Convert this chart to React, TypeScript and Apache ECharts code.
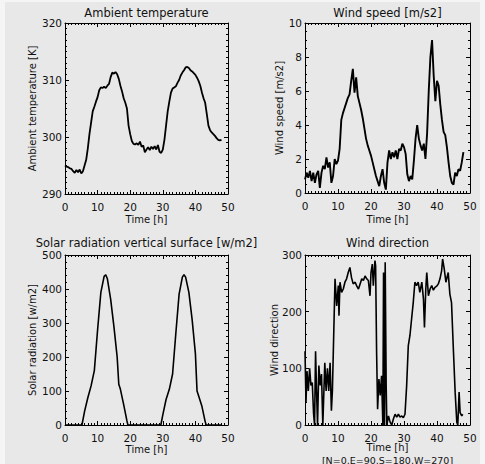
import React, { useEffect, useRef } from "react";
import * as echarts from "echarts";

// sample times (hours) of the half-hourly series
const halfHours = Array.from({ length: 97 }, (_, i) => i / 2);

const temperature = [
  295.0, 294.8, 294.7, 294.5, 294.4, 294.0, 293.7, 294.2, 293.8, 294.3,
  293.6, 294.0, 295.0, 296.0, 298.0, 300.5, 302.5, 304.5, 305.3, 306.2,
  307.0, 308.2, 308.7, 308.6, 308.8, 308.6, 309.0, 309.3, 310.5, 311.3,
  311.1, 311.4, 311.0, 310.2, 309.0, 308.0, 306.8, 306.0, 305.0, 302.0,
  300.5, 299.3, 298.8, 298.7, 298.9, 298.6, 299.2, 298.3, 298.5, 297.3,
  297.8, 298.2, 297.7, 298.3, 297.9, 298.4, 297.8, 298.6, 297.4, 297.2,
  297.8, 299.5, 302.0, 304.5, 306.2, 307.8, 308.5, 308.7, 308.9, 309.5,
  310.0, 310.8, 311.3, 311.7, 312.2, 312.3, 312.1, 311.7, 311.5, 311.2,
  310.9, 310.4, 309.8, 309.0, 307.8, 306.8, 306.0, 304.0, 302.0, 301.2,
  300.8, 300.5, 300.2, 299.8, 299.5, 299.4,
  299.5,
];

const windSpeed = [
  0.8, 1.2, 0.9, 1.3, 0.7, 1.2, 0.6, 1.1, 1.3, 0.3,
  1.2, 1.6, 1.4, 2.1, 1.5, 1.8, 0.6, 1.0, 2.0, 1.7,
  1.9, 2.6, 4.3, 4.7, 5.0, 5.3, 5.6, 5.8, 6.6, 7.3,
  5.9, 6.8, 5.7, 5.3, 4.9, 4.4, 3.8, 3.2, 2.8, 2.5,
  2.2, 1.8, 1.4, 1.0, 0.7, 0.4, 1.0, 1.4, 0.6, 0.2,
  1.8, 2.5, 2.0, 2.4, 2.1, 2.5, 2.0, 2.6, 2.5, 2.9,
  2.7, 2.3, 1.1, 0.7, 1.0, 0.8, 1.9, 3.2, 4.0, 3.2,
  2.8, 2.5, 2.9, 2.0, 3.5, 6.0, 8.0, 9.0, 6.9, 5.4,
  6.6, 6.3, 5.2, 4.3, 3.6, 3.4, 2.7, 1.8, 1.0, 0.6,
  0.5, 1.2, 1.0, 1.4, 1.3, 1.8,
  2.4,
];

const solarTime = [
  0, 5.2, 6, 7, 8, 9, 10, 11, 12, 12.5, 13, 14, 15, 16, 16.5, 17, 18, 19, 19.3,
  29.4, 30, 31, 32, 33, 34, 35, 36, 36.5, 37, 38, 39, 40, 40.5, 41, 42, 43, 43.3, 48,
];
const solarValue = [
  0, 0, 40, 80, 115, 160, 280, 390, 437, 442, 430, 370, 290, 200, 120, 105, 60, 12, 0,
  0, 30, 75, 105, 150, 270, 385, 435, 442, 435, 390, 310, 210, 100, 85, 55, 10, 0, 0,
];

const dirTime = [
  0, 0.3, 0.6, 1, 1.4, 1.8, 2.2, 2.6, 2.9, 3.2,
  3.5, 3.8, 4.2, 4.6, 5, 5.4, 5.6, 6, 6.4, 6.8,
  7.2, 7.6, 8, 8.3, 9.1, 9.6, 10.1, 10.3, 10.6, 11.1,
  11.6, 12.1, 12.6, 13.1, 13.6, 14.1, 14.6, 15.2, 15.7, 16.2,
  16.7, 17.2, 17.7, 18.2, 18.7, 19.2, 19.7, 20, 20.4, 20.7,
  21.2, 21.4, 21.7, 22, 22.4, 22.8, 23.2, 23.6, 23.8, 24.1,
  24.3, 24.6, 24.8, 25.3, 25.8, 26.3, 26.8, 27.3, 27.8, 28.3,
  28.8, 29.3, 29.8, 30.3, 30.8, 31.3, 31.8, 32.3, 32.8, 33.3,
  33.8, 34.3, 34.8, 35.4, 35.9, 36.2, 36.6, 36.9, 37.4, 37.9,
  38.4, 38.9, 39.4, 39.9, 40.4, 40.9, 41.4, 41.7, 42.2, 42.7,
  43.1, 43.4, 43.9, 44.4, 45, 45.5, 46, 46.3, 46.7, 47,
  47.5, 47.8,
];
const windDirection = [
  130, 40, 95, 60, 100, 70, 75, 20, 0, 130,
  60, 0, 105, 70, 90, 0, 0, 110, 60, 100,
  60, 110, 25, 60, 258, 210, 246, 193, 252, 234,
  240, 252, 258, 269, 278, 260, 249, 252, 245, 240,
  249, 258, 255, 263, 258, 255, 228, 269, 284, 246,
  290, 281, 128, 28, 81, 52, 87, 0, 269, 0,
  287, 69, 0, 16, 5, 0, 11, 19, 14, 19,
  14, 16, 13, 19, 69, 140, 158, 187, 216, 252,
  246, 252, 234, 252, 222, 172, 240, 269, 228, 240,
  246, 238, 243, 245, 249, 258, 272, 293, 275, 252,
  262, 269, 231, 216, 128, 58, 5, 0, 58, 22,
  16, 19,
];

const timeTicks = { min: 0, max: 50, interval: 10 };
const panelTitles = [
  "Ambient temperature",
  "Wind speed [m/s2]",
  "Solar radiation vertical surface [w/m2]",
  "Wind direction",
];
const yNames = [
  "Ambient temperature [K]",
  "Wind speed [m/s2]",
  "Solar radiation [w/m2]",
  "Wind direction",
];
const xName = "Time [h]";
const directionNote = "[N=0,E=90,S=180,W=270]";

const FONT = "DejaVu Sans";
const INK = "#111";

const grids = [
  { left: 65, top: 23, width: 163, height: 171 },
  { left: 305, top: 23, width: 165, height: 170 },
  { left: 65, top: 255, width: 163, height: 170 },
  { left: 305, top: 255, width: 165, height: 170 },
];

const yScales = [
  { min: 290, max: 320, interval: 10, minor: 10 },
  { min: 0, max: 10, interval: 2, minor: 4 },
  { min: 0, max: 500, interval: 100, minor: 5 },
  { min: 0, max: 300, interval: 100, minor: 5 },
];

function axisBase(primary: boolean, minor: number, margin: number) {
  return {
    axisLine: { show: true, onZero: false, lineStyle: { color: "#000", width: 1 } },
    axisTick: { show: true, inside: true, length: 4, lineStyle: { color: "#000", width: 1 } },
    minorTick: { show: true, splitNumber: minor, length: 2, lineStyle: { color: "#000", width: 1 } },
    splitLine: { show: false },
    minorSplitLine: { show: false },
    axisLabel: primary
      ? { show: true, color: INK, fontSize: 10.5, fontFamily: FONT, margin }
      : { show: false },
  };
}

function buildOption() {
  const xAxis: any[] = [];
  const yAxis: any[] = [];
  grids.forEach((_, g) => {
    ["bottom", "top"].forEach((pos, k) => {
      xAxis.push({
        type: "value",
        gridIndex: g,
        position: pos,
        ...timeTicks,
        ...axisBase(k === 0, 10, 7),
      });
    });
    const ys = yScales[g];
    ["left", "right"].forEach((pos, k) => {
      yAxis.push({
        type: "value",
        gridIndex: g,
        position: pos,
        min: ys.min,
        max: ys.max,
        interval: ys.interval,
        ...axisBase(k === 0, ys.minor, 3),
      });
    });
  });

  const lineSeries = (g: number, data: number[][], width: number) => ({
    type: "line",
    xAxisIndex: g * 2,
    yAxisIndex: g * 2,
    data,
    showSymbol: false,
    symbol: "none",
    lineStyle: { color: "#000", width },
    z: 3,
  });

  const series = [
    lineSeries(0, halfHours.map((t, i) => [t, temperature[i]]), 1.8),
    lineSeries(1, halfHours.map((t, i) => [t, windSpeed[i]]), 1.9),
    lineSeries(2, solarTime.map((t, i) => [t, solarValue[i]]), 1.6),
    lineSeries(3, dirTime.map((t, i) => [t, windDirection[i]]), 1.6),
  ];

  const titleY = [12.5, 12.5, 242.5, 242.5];
  const xNameY = [219, 219, 449, 447.5];
  const yNameX = [32, 279, 32, 274];

  const graphic: any[] = [
    {
      type: "rect",
      shape: { x: 5, y: 2, width: 475, height: 462 },
      style: { fill: "#e8e8e8" },
      z: -10,
      silent: true,
    },
  ];
  grids.forEach((gr, g) => {
    const cx = gr.left + gr.width / 2;
    const cy = gr.top + gr.height / 2;
    graphic.push({
      type: "text",
      x: cx,
      y: titleY[g],
      style: {
        text: panelTitles[g],
        fill: INK,
        font: `11.5px "${FONT}"`,
        textAlign: "center",
        textVerticalAlign: "middle",
      },
    });
    graphic.push({
      type: "text",
      x: cx,
      y: xNameY[g],
      style: {
        text: xName,
        fill: INK,
        font: `10px "${FONT}"`,
        textAlign: "center",
        textVerticalAlign: "middle",
      },
    });
    graphic.push({
      type: "text",
      x: yNameX[g],
      y: cy,
      rotation: Math.PI / 2,
      style: {
        text: yNames[g],
        fill: INK,
        font: `10px "${FONT}"`,
        textAlign: "center",
        textVerticalAlign: "middle",
      },
    });
  });
  graphic.push({
    type: "text",
    x: grids[3].left + grids[3].width / 2,
    y: 460,
    style: {
      text: directionNote,
      fill: INK,
      font: `9.5px "${FONT}"`,
      textAlign: "center",
      textVerticalAlign: "middle",
    },
  });

  return {
    animation: false,
    backgroundColor: "#f5f5f5",
    grid: grids.map((g) => ({ ...g, containLabel: false })),
    xAxis,
    yAxis,
    series,
    graphic,
  };
}

export default function App() {
  const ref = useRef<HTMLDivElement>(null);
  useEffect(() => {
    if (!ref.current) return;
    const chart = echarts.init(ref.current, null, { renderer: "svg" });
    chart.setOption(buildOption() as any);
    return () => chart.dispose();
  }, []);
  return (
    <div
      ref={ref}
      style={{ position: "fixed", left: 0, top: 0, width: 485, height: 464 }}
    />
  );
}
